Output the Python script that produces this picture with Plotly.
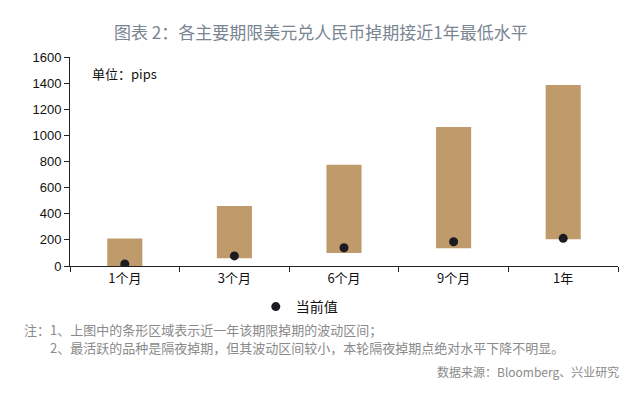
import plotly.graph_objects as go

categories = ["1个月", "3个月", "6个月", "9个月", "1年"]
range_low = [0, 60, 100, 135, 205]
range_high = [210, 460, 775, 1065, 1385]
current_value = [15, 77, 140, 186, 212]

y_ticks = [0, 200, 400, 600, 800, 1000, 1200, 1400, 1600]

title_text = "图表 2：各主要期限美元兑人民币掉期接近1年最低水平"
unit_text = "单位：pips"
legend_name = "当前值"
note1 = "注：1、上图中的条形区域表示近一年该期限掉期的波动区间；"
note2 = "2、最活跃的品种是隔夜掉期，但其波动区间较小，本轮隔夜掉期点绝对水平下降不明显。"
source_text = "数据来源：Bloomberg、兴业研究"

bar_heights = [h - l for h, l in zip(range_high, range_low)]

CJK = "Noto Sans CJK SC, Liberation Sans, sans-serif"
NUM = "Liberation Sans, Arial, sans-serif"

fig = go.Figure()
fig.add_trace(go.Bar(
    x=categories, y=bar_heights, base=range_low, width=0.32,
    marker=dict(color="#BF9A6A", line=dict(width=0)),
    showlegend=False, hoverinfo="skip",
))
fig.add_trace(go.Scatter(
    x=categories, y=current_value, mode="markers", name=legend_name,
    marker=dict(color="#1b1b22", size=9),
))

fig.update_layout(
    width=632, height=385,
    margin=dict(l=62, r=22, t=49, b=127),
    paper_bgcolor="white", plot_bgcolor="white",
    font=dict(family=CJK, size=13, color="#111111"),
    showlegend=True,
    legend=dict(orientation="h", x=0.339, y=-0.196, xanchor="left", yanchor="middle",
                font=dict(family=CJK, size=14, color="#111111"),
                itemwidth=30, bgcolor="rgba(0,0,0,0)"),
    xaxis=dict(type="category", showline=True, linecolor="#222222", linewidth=1,
               ticks="outside", ticklen=5, tickcolor="#222222", tickson="boundaries",
               showgrid=False, tickfont=dict(family=CJK, size=13, color="#111111")),
    yaxis=dict(range=[0, 1600], tickvals=y_ticks, showline=True, linecolor="#222222",
               linewidth=1, ticks="outside", ticklen=5, tickcolor="#222222",
               showgrid=False, zeroline=False,
               tickfont=dict(family=NUM, size=13, color="#111111")),
    annotations=[
        dict(text=title_text, xref="paper", yref="paper", x=0.458, y=1.12,
             xanchor="center", yanchor="middle", showarrow=False,
             font=dict(family=CJK, size=17, color="#7a8592")),
        dict(text=unit_text, xref="paper", yref="paper", x=0.036, y=0.919,
             xanchor="left", yanchor="middle", showarrow=False,
             font=dict(family=CJK, size=13, color="#111111")),
        dict(text=note1, xref="paper", yref="paper", x=-0.088, y=-0.306,
             xanchor="left", yanchor="middle", showarrow=False,
             font=dict(family=CJK, size=13, color="#8a8a8a")),
        dict(text=note2, xref="paper", yref="paper", x=-0.040, y=-0.388,
             xanchor="left", yanchor="middle", showarrow=False,
             font=dict(family=CJK, size=13, color="#8a8a8a")),
        dict(text=source_text, xref="paper", yref="paper", x=1.005, y=-0.507,
             xanchor="right", yanchor="middle", showarrow=False,
             font=dict(family=CJK, size=12, color="#8a8a8a")),
    ],
)

fig.write_html("out.html")
